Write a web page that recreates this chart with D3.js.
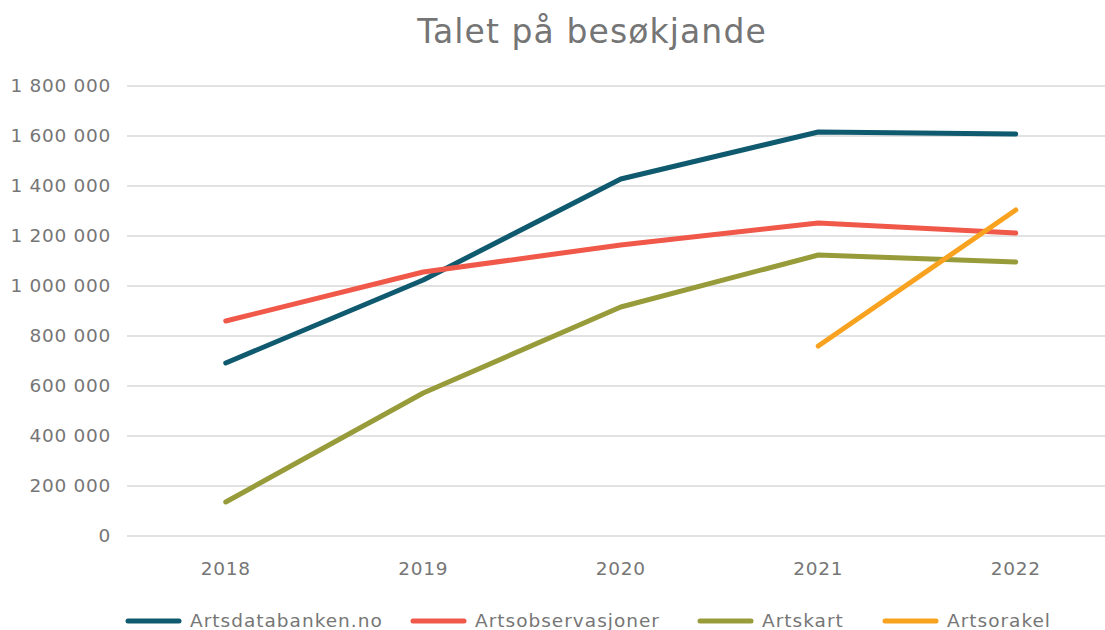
<!DOCTYPE html>
<html>
<head>
<meta charset="utf-8">
<script src="https://cdn.jsdelivr.net/npm/d3@7"></script>
<style>
  body { margin: 0; background: #fff; }
  svg text { font-family: "DejaVu Sans", "Liberation Sans", sans-serif; fill: #767676; }
</style>
</head>
<body>
<div id="chart"></div>
<script>
// Data
const years = ["2018", "2019", "2020", "2021", "2022"];
const artsdatabanken = [692000, 1024000, 1428000, 1616000, 1608000];
const artsobservasjoner = [860000, 1056000, 1164000, 1252000, 1212000];
const artskart = [136000, 572000, 916000, 1124000, 1096000];
const artsorakel = [null, null, null, 760000, 1304000];
const seriesNames = ["Artsdatabanken.no", "Artsobservasjoner", "Artskart", "Artsorakel"];
const seriesColors = ["#0f5a6e", "#f0584a", "#979b39", "#f8a21f"];
const yTicks = [0, 200000, 400000, 600000, 800000, 1000000, 1200000, 1400000, 1600000, 1800000];

const series = [artsdatabanken, artsobservasjoner, artskart, artsorakel].map((vals, i) => ({
    name: seriesNames[i],
    color: seriesColors[i],
    values: vals.map((v, j) => ({ year: years[j], value: v }))
}));

const W = 1105, H = 630;
const margin = { top: 86, left: 127, bottom: 94 };
const plotW = 987.5;
const plotH = H - margin.top - margin.bottom;

const svg = d3.select("#chart").append("svg")
    .attr("width", W)
    .attr("height", H);

// Title
svg.append("text")
    .attr("x", 592)
    .attr("y", 43)
    .attr("text-anchor", "middle")
    .style("font-size", "33px")
    .style("letter-spacing", "1.1px")
    .style("fill", "#757575")
    .text("Talet på besøkjande");

const g = svg.append("g")
    .attr("transform", `translate(${margin.left},${margin.top})`);

const x = d3.scalePoint()
    .domain(years)
    .range([0, plotW])
    .padding(0.5);

const y = d3.scaleLinear()
    .domain([0, 1800000])
    .range([plotH, 0]);

const fmt = v => d3.format(",")(v).replace(/,/g, " ");

// Gridlines
g.append("g")
    .selectAll("line")
    .data(yTicks)
    .join("line")
    .attr("x1", 0)
    .attr("x2", plotW)
    .attr("y1", d => y(d))
    .attr("y2", d => y(d))
    .attr("stroke", "#d9d9d9")
    .attr("stroke-width", 1.5);

// Y labels
g.append("g")
    .selectAll("text")
    .data(yTicks)
    .join("text")
    .attr("x", -16)
    .attr("y", d => y(d))
    .attr("dy", "0.35em")
    .attr("text-anchor", "end")
    .style("font-size", "18.5px")
    .style("letter-spacing", "0.7px")
    .text(d => fmt(d));

// X labels
g.append("g")
    .selectAll("text")
    .data(years)
    .join("text")
    .attr("x", d => x(d))
    .attr("y", plotH + 33)
    .attr("dy", "0.35em")
    .attr("text-anchor", "middle")
    .style("font-size", "18.5px")
    .style("letter-spacing", "0.7px")
    .text(d => d);

// Lines
const line = d3.line()
    .defined(d => d.value !== null)
    .x(d => x(d.year))
    .y(d => y(d.value));

g.selectAll(".series")
    .data(series)
    .join("path")
    .attr("class", "series")
    .attr("fill", "none")
    .attr("stroke", d => d.color)
    .attr("stroke-width", 5)
    .attr("stroke-linecap", "round")
    .attr("stroke-linejoin", "round")
    .attr("d", d => line(d.values));

// Legend
const legendX = [126, 411, 698, 883];
const legend = svg.append("g");
series.forEach((s, i) => {
    const lg = legend.append("g").attr("transform", `translate(${legendX[i]},621)`);
    lg.append("line")
        .attr("x1", 2).attr("x2", 53)
        .attr("stroke", s.color)
        .attr("stroke-width", 5)
        .attr("stroke-linecap", "round");
    lg.append("text")
        .attr("x", 64)
        .attr("dy", "0.35em")
        .style("font-size", "18.5px")
        .style("letter-spacing", "1px")
        .text(s.name);
});
</script>
</body>
</html>
